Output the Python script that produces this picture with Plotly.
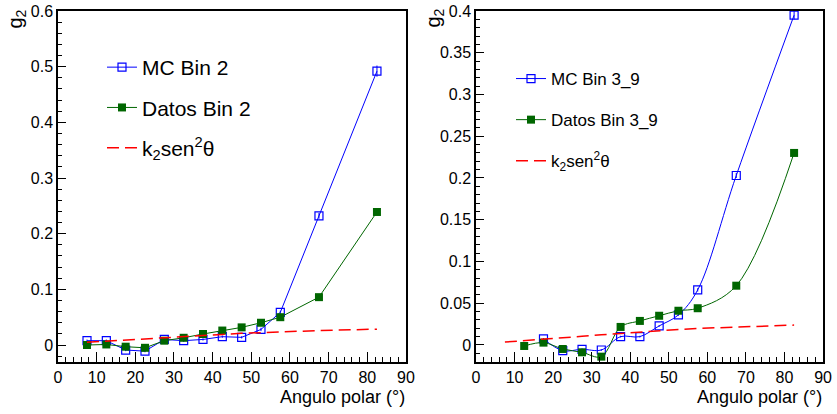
import plotly.graph_objects as go

# ---------------- data ----------------
angles = [7.5, 12.5, 17.5, 22.5, 27.5, 32.5, 37.5, 42.5, 47.5, 52.5, 57.5, 67.5, 82.5]

mc_bin2 = [0.0078, 0.0078, -0.009, -0.011, 0.010, 0.0078, 0.010, 0.015, 0.0138, 0.028, 0.0587, 0.232, 0.492]
mc_bin2_err = [0.002, 0.002, 0.002, 0.002, 0.002, 0.002, 0.002, 0.002, 0.002, 0.003, 0.003, 0.005, 0.010]
datos_bin2 = [0.0, 0.001, -0.003, -0.005, 0.0078, 0.013, 0.0198, 0.026, 0.0317, 0.040, 0.050, 0.086, 0.239]
k2_bin2 = [0.005, 0.0068, 0.0088, 0.0108, 0.0128, 0.015, 0.017, 0.019, 0.021, 0.0225, 0.024, 0.026, 0.0285]

angles_mc39 = [17.5, 22.5, 27.5, 32.5, 37.5, 42.5, 47.5, 52.5, 57.5, 67.5, 82.5]
mc_bin39 = [0.0072, -0.0068, -0.0052, -0.006, 0.010, 0.010, 0.0228, 0.036, 0.066, 0.203, 0.395]
mc_bin39_err = [0.001, 0.001, 0.001, 0.001, 0.001, 0.001, 0.001, 0.001, 0.002, 0.003, 0.005]
angles_d39 = [12.5, 17.5, 22.5, 27.5, 32.5, 37.5, 42.5, 47.5, 52.5, 57.5, 67.5, 82.5]
datos_bin39 = [-0.0012, 0.0028, -0.0048, -0.0088, -0.014, 0.0216, 0.0288, 0.035, 0.041, 0.044, 0.071, 0.230]
k2_bin39 = [0.0035, 0.005, 0.0068, 0.0086, 0.0104, 0.0122, 0.014, 0.0157, 0.0172, 0.0186, 0.0198, 0.0217, 0.0238]

x_ticks = [0, 10, 20, 30, 40, 50, 60, 70, 80, 90]
x_ticktext = ["0", "10", "20", "30", "40", "50", "60", "70", "80", "90"]
y1_ticks = [0, 0.1, 0.2, 0.3, 0.4, 0.5, 0.6]
y1_ticktext = ["0", "0.1", "0.2", "0.3", "0.4", "0.5", "0.6"]
y2_ticks = [0, 0.05, 0.1, 0.15, 0.2, 0.25, 0.3, 0.35, 0.4]
y2_ticktext = ["0", "0.05", "0.1", "0.15", "0.2", "0.25", "0.3", "0.35", "0.4"]

BLUE = "#0000ff"
GREEN = "#006600"
RED = "#ff0000"
FONT = "Liberation Sans, Arial, Helvetica, sans-serif"

fig = go.Figure()

# left panel
fig.add_trace(go.Scatter(x=angles, y=mc_bin2, name="MC Bin 2", mode="lines+markers",
                         line=dict(color=BLUE, width=1),
                         marker=dict(symbol="square-open", size=8, color=BLUE, line=dict(width=1.2)),
                         error_y=dict(type="data", array=mc_bin2_err, color=BLUE, thickness=1, width=0),
                         xaxis="x", yaxis="y", legend="legend", legendgroup="a"))
fig.add_trace(go.Scatter(x=angles, y=datos_bin2, name="Datos Bin 2", mode="lines+markers",
                         line=dict(color=GREEN, width=1),
                         marker=dict(symbol="square", size=8, color=GREEN),
                         xaxis="x", yaxis="y", legend="legend", legendgroup="b"))
fig.add_trace(go.Scatter(x=angles, y=k2_bin2, name="k<sub>2</sub>sen<sup>2</sup>θ", mode="lines",
                         line=dict(color=RED, width=1.5, dash="12px,6px"),
                         xaxis="x", yaxis="y", legend="legend", legendgroup="c"))

# right panel
fig.add_trace(go.Scatter(x=angles_mc39, y=mc_bin39, name="MC Bin 3_9", mode="lines+markers",
                         line=dict(color=BLUE, width=1, shape="spline"),
                         marker=dict(symbol="square-open", size=8, color=BLUE, line=dict(width=1.2)),
                         error_y=dict(type="data", array=mc_bin39_err, color=BLUE, thickness=1, width=0),
                         xaxis="x2", yaxis="y2", legend="legend2", legendgroup="d"))
fig.add_trace(go.Scatter(x=angles_d39, y=datos_bin39, name="Datos Bin 3_9", mode="lines+markers",
                         line=dict(color=GREEN, width=1, shape="spline"),
                         marker=dict(symbol="square", size=8, color=GREEN),
                         xaxis="x2", yaxis="y2", legend="legend2", legendgroup="e"))
fig.add_trace(go.Scatter(x=angles, y=k2_bin39, name="k<sub>2</sub>sen<sup>2</sup>θ", mode="lines",
                         line=dict(color=RED, width=1.5, dash="12px,6px"),
                         xaxis="x2", yaxis="y2", legend="legend2", legendgroup="f"))

axis_common = dict(showline=True, linecolor="black", linewidth=1.5, mirror=True,
                   showgrid=False, zeroline=False, ticks="inside", tickcolor="black",
                   automargin=False,
                   tickfont=dict(family=FONT, size=16, color="black"))

xa = dict(axis_common, range=[0, 90], tickmode="array", tickvals=x_ticks, ticktext=x_ticktext,
          ticklen=10, tickwidth=1,
          minor=dict(ticks="inside", tickmode="linear", tick0=0, dtick=2, ticklen=5, tickcolor="black"))

fig.update_layout(
    width=837, height=414,
    margin=dict(l=0, r=0, t=0, b=0, autoexpand=False),
    paper_bgcolor="white", plot_bgcolor="white",
    font=dict(family=FONT, color="black"),
    xaxis=dict(xa, domain=[0.0693, 0.485], anchor="y"),
    xaxis2=dict(xa, domain=[0.5687, 0.9833], anchor="y2"),
    yaxis=dict(axis_common, domain=[0.1256, 0.9734], anchor="x", range=[-0.0305, 0.6],
               tickmode="array", tickvals=y1_ticks, ticktext=y1_ticktext, ticklen=8, tickwidth=1,
               minor=dict(ticks="inside", tickmode="linear", tick0=0, dtick=0.02, ticklen=4, tickcolor="black")),
    yaxis2=dict(axis_common, domain=[0.1256, 0.9734], anchor="x2", range=[-0.0204, 0.4],
                tickmode="array", tickvals=y2_ticks, ticktext=y2_ticktext, ticklen=8, tickwidth=1,
                minor=dict(ticks="inside", tickmode="linear", tick0=0, dtick=0.01, ticklen=4, tickcolor="black")),
    legend=dict(x=102 / 837, y=1 - 47 / 414, xanchor="left", yanchor="top",
                bgcolor="rgba(0,0,0,0)", font=dict(family=FONT, size=21, color="black"),
                tracegroupgap=10, traceorder="grouped"),
    legend2=dict(x=511 / 837, y=1 - 61 / 414, xanchor="left", yanchor="top",
                 bgcolor="rgba(0,0,0,0)", font=dict(family=FONT, size=17, color="black"),
                 tracegroupgap=16, traceorder="grouped"),
    showlegend=True,
)

annotations = [
    dict(text="g<sub>2</sub>", x=16 / 837, y=1 - 7 / 414, xref="paper", yref="paper",
         xanchor="center", yanchor="top", textangle=-90, showarrow=False,
         font=dict(family=FONT, size=20, color="black")),
    dict(text="g<sub>2</sub>", x=434 / 837, y=1 - 7 / 414, xref="paper", yref="paper",
         xanchor="center", yanchor="top", textangle=-90, showarrow=False,
         font=dict(family=FONT, size=20, color="black")),
    dict(text="Angulo polar (°)", x=407 / 837, y=1 - 409 / 414, xref="paper", yref="paper",
         xanchor="right", yanchor="bottom", showarrow=False,
         font=dict(family=FONT, size=18, color="black")),
    dict(text="Angulo polar (°)", x=824 / 837, y=1 - 409 / 414, xref="paper", yref="paper",
         xanchor="right", yanchor="bottom", showarrow=False,
         font=dict(family=FONT, size=18, color="black")),
]
fig.update_layout(annotations=annotations)

fig.write_html("out.html", config={"displayModeBar": False},
               post_script="document.body.style.margin='0';document.body.style.overflow='hidden';")
